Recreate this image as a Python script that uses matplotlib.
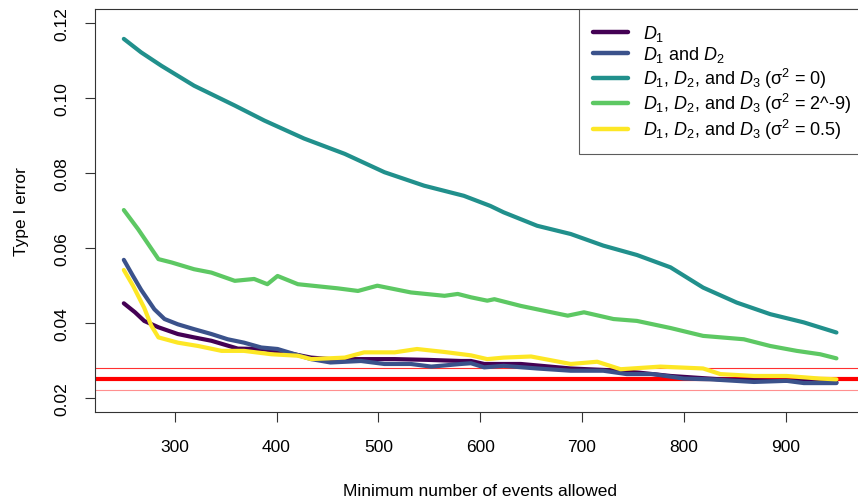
import matplotlib
matplotlib.use("Agg")
import matplotlib.pyplot as plt

plt.rcParams["font.family"] = ["Liberation Sans", "DejaVu Sans"]
plt.rcParams["mathtext.fontset"] = "custom"
plt.rcParams["mathtext.rm"] = "Liberation Sans"
plt.rcParams["mathtext.it"] = "Liberation Sans:italic"

# type I error against minimum number of events, one curve per test set
d1_x = [250, 261, 270, 284, 303, 319, 336, 362, 385, 408, 434, 453, 483, 516, 548,
        581, 591, 604, 640, 689, 738, 787, 836, 885, 918, 950]
d1_y = [0.0452, 0.0428, 0.0405, 0.0388, 0.0370, 0.0361, 0.0352, 0.0331, 0.0330, 0.0321,
        0.0307, 0.0303, 0.0303, 0.0303, 0.0301, 0.0298, 0.0298, 0.0290, 0.0290, 0.0278,
        0.0272, 0.0258, 0.0249, 0.0245, 0.0245, 0.0241]

d12_x = [250, 259, 267, 280, 290, 303, 319, 336, 352, 368, 385, 401, 418, 434, 453, 483,
         506, 532, 552, 581, 591, 604, 623, 656, 689, 721, 744, 770, 800, 826, 869, 901,
         918, 950]
d12_y = [0.0568, 0.0525, 0.0488, 0.0436, 0.0410, 0.0396, 0.0383, 0.0370, 0.0356, 0.0347,
         0.0334, 0.0330, 0.0316, 0.0303, 0.0294, 0.0298, 0.0290, 0.0290, 0.0283, 0.0290,
         0.0292, 0.0281, 0.0285, 0.0278, 0.0272, 0.0272, 0.0263, 0.0263, 0.0251, 0.0249,
         0.0242, 0.0245, 0.0239, 0.0239]

s0_x = [250, 267, 287, 319, 359, 388, 427, 467, 506, 545, 584, 610, 623, 656, 689, 721,
        754, 787, 819, 852, 885, 918, 950]
s0_y = [0.1158, 0.1122, 0.1086, 0.1033, 0.0980, 0.0940, 0.0892, 0.0851, 0.0802, 0.0766,
        0.0739, 0.0712, 0.0695, 0.0659, 0.0637, 0.0606, 0.0581, 0.0548, 0.0494, 0.0454,
        0.0423, 0.0401, 0.0374]

s9_x = [250, 264, 284, 297, 319, 336, 359, 378, 391, 401, 421, 460, 480, 499, 532, 565,
        578, 591, 607, 614, 640, 663, 686, 702, 731, 754, 787, 819, 859, 885, 911, 934, 950]
s9_y = [0.0701, 0.0650, 0.0570, 0.0561, 0.0543, 0.0534, 0.0512, 0.0517, 0.0503, 0.0525,
        0.0503, 0.0492, 0.0485, 0.0499, 0.0481, 0.0472, 0.0477, 0.0468, 0.0459, 0.0463,
        0.0445, 0.0432, 0.0419, 0.0428, 0.0410, 0.0405, 0.0386, 0.0365, 0.0356, 0.0338,
        0.0325, 0.0316, 0.0305]

s05_x = [250, 259, 270, 277, 284, 303, 323, 346, 368, 395, 421, 434, 467, 486, 516, 538,
         565, 591, 607, 623, 650, 689, 715, 738, 777, 819, 836, 869, 901, 934, 950]
s05_y = [0.0541, 0.0499, 0.0440, 0.0392, 0.0361, 0.0347, 0.0338, 0.0325, 0.0325, 0.0316,
         0.0312, 0.0303, 0.0307, 0.0321, 0.0321, 0.0330, 0.0322, 0.0313, 0.0303, 0.0307,
         0.0310, 0.0290, 0.0296, 0.0276, 0.0283, 0.0278, 0.0263, 0.0258, 0.0258, 0.0251,
         0.0249]

labels = [r"$D_1$",
          r"$D_1$ and $D_2$",
          r"$D_1$, $D_2$, and $D_3$ (σ$^2$ = 0)",
          r"$D_1$, $D_2$, and $D_3$ (σ$^2$ = 2^-9)",
          r"$D_1$, $D_2$, and $D_3$ (σ$^2$ = 0.5)"]
colors = ["#440154", "#3B528B", "#21908C", "#5DC863", "#FDE725"]

alpha_level = 0.025
ci_low, ci_high = 0.02194, 0.02806

fig = plt.figure(figsize=(8.58, 5.02), dpi=100)
ax = fig.add_axes([0.1111, 0.1767, 0.897, 0.8028])

ax.axhline(alpha_level, color="red", lw=3, zorder=1)
ax.axhline(ci_high, color="#ff3030", lw=0.8, zorder=1)
ax.axhline(ci_low, color="#ff9090", lw=0.8, zorder=1)

series = [(d1_x, d1_y), (d12_x, d12_y), (s0_x, s0_y), (s9_x, s9_y), (s05_x, s05_y)]
for (xs, ys), lab, col in zip(series, labels, colors):
    ax.plot(xs, ys, color=col, lw=3.0, label=lab, zorder=2,
            solid_joinstyle="round", solid_capstyle="round")

ax.set_xlim(222, 978)
ax.set_ylim(0.0161, 0.1237)
ax.set_xticks([300, 400, 500, 600, 700, 800, 900])
ax.set_yticks([0.02, 0.04, 0.06, 0.08, 0.10, 0.12])
ax.set_yticklabels(["0.02", "0.04", "0.06", "0.08", "0.10", "0.12"],
                   rotation=90, va="center")
ax.tick_params(axis="both", labelsize=12.5, length=7, width=0.8, color="#333333")
ax.tick_params(axis="x", pad=12)
ax.tick_params(axis="y", pad=12)
for sp in ax.spines.values():
    sp.set_linewidth(0.8)
    sp.set_color("#333333")

ax.set_xlabel("Minimum number of events allowed", fontsize=12.5, labelpad=21)
ax.set_ylabel("Type I error", fontsize=12.5, labelpad=18)

leg = ax.legend(loc="upper right", bbox_to_anchor=(1, 1), borderaxespad=0,
                fontsize=13, frameon=True, fancybox=False, edgecolor="#333333",
                handlelength=1.95, handletextpad=0.85, labelspacing=0.08,
                borderpad=0.75)
leg.get_frame().set_linewidth(0.8)
for h in leg.get_lines():
    h.set_linewidth(3.2)

fig.savefig("out.png", dpi=100)
